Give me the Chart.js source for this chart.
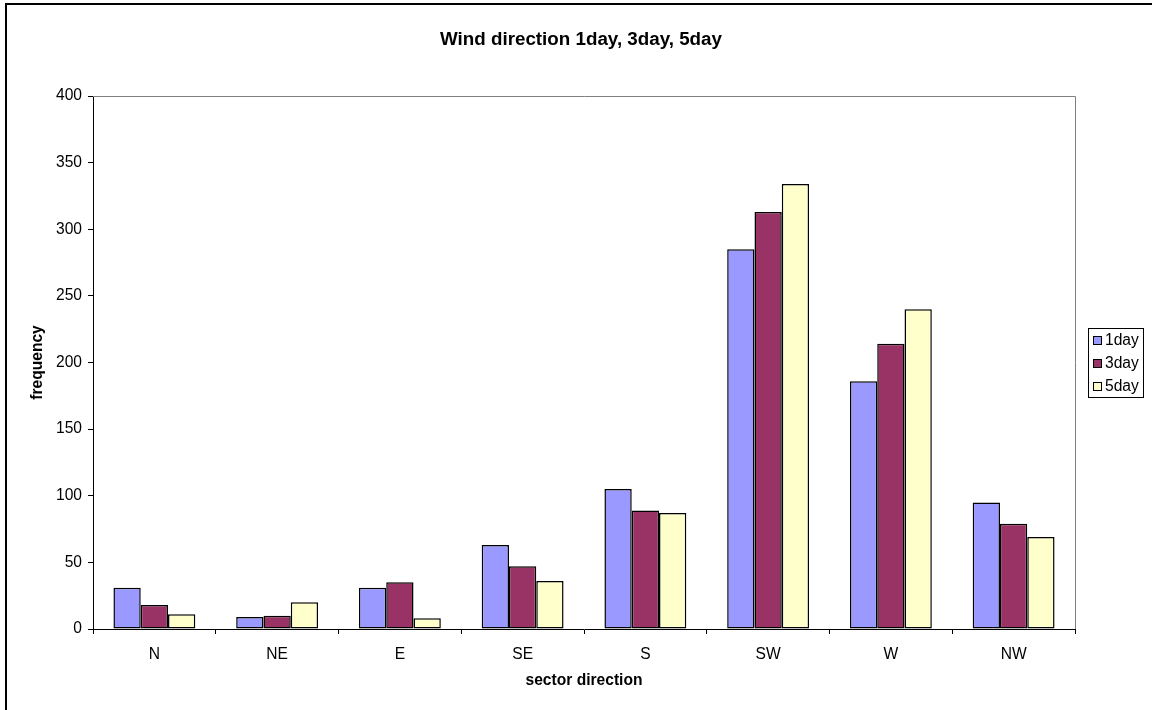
<!DOCTYPE html>
<html>
<head>
<meta charset="utf-8">
<script src="https://cdn.jsdelivr.net/npm/chart.js@4.4.1/dist/chart.umd.min.js"></script>
<style>
  html, body { margin: 0; padding: 0; background: #fff; }
  canvas { display: block; }
</style>
</head>
<body>
<canvas id="c" width="1152" height="710"></canvas>
<script>
// Wind sector frequencies for three averaging windows
const categories = ['N', 'NE', 'E', 'SE', 'S', 'SW', 'W', 'NW'];
const seriesNames = ['1day', '3day', '5day'];
const day1 = [31, 9, 31, 63, 105, 285, 186, 95];
const day3 = [18, 10, 35, 47, 89, 313, 214, 79];
const day5 = [11, 20, 8, 36, 87, 334, 240, 69];
const yMin = 0, yMax = 400, yStep = 50;
const chartTitle = 'Wind direction 1day, 3day, 5day';

const seriesColors = ['#9999FF', '#993366', '#FFFFCC'];
const FONT = "'Liberation Sans', Arial, sans-serif";

// White page, outer frame, centred heading and the grey plot-area border (top and right)
const framePlugin = {
  id: 'frame',
  beforeDraw(chart) {
    const ctx = chart.ctx;
    ctx.save();
    ctx.fillStyle = '#fff';
    ctx.fillRect(0, 0, chart.width, chart.height);
    ctx.restore();
  },
  beforeDatasetsDraw(chart) {
    const { ctx, chartArea: a } = chart;
    ctx.save();
    ctx.strokeStyle = '#808080';
    ctx.lineWidth = 1;
    ctx.beginPath();
    ctx.moveTo(a.left, a.top + 0.5);
    ctx.lineTo(a.right + 0.5, a.top + 0.5);
    ctx.lineTo(a.right + 0.5, a.bottom);
    ctx.stroke();
    ctx.restore();
  },
  afterDraw(chart) {
    const ctx = chart.ctx;
    ctx.save();
    ctx.strokeStyle = '#000';
    ctx.lineWidth = 2;
    ctx.beginPath();
    ctx.moveTo(6, chart.height);
    ctx.lineTo(6, 4);
    ctx.lineTo(chart.width, 4);
    ctx.stroke();
    // heading, centred on the framed page
    ctx.fillStyle = '#000';
    ctx.font = 'bold 18.8px ' + FONT;
    ctx.textAlign = 'center';
    ctx.textBaseline = 'middle';
    ctx.fillText(chartTitle, 581, 40);
    ctx.restore();
  }
};

// Boxed legend to the right of the plot
const boxLegendPlugin = {
  id: 'boxLegend',
  afterDraw(chart) {
    const ctx = chart.ctx;
    const bx = 1088, by = 328, bw = 55, bh = 69;
    ctx.save();
    ctx.strokeStyle = '#000';
    ctx.lineWidth = 1;
    ctx.strokeRect(bx + 0.5, by + 0.5, bw, bh);
    ctx.font = '15.6px ' + FONT;
    ctx.textBaseline = 'middle';
    ctx.textAlign = 'left';
    chart.data.datasets.forEach((ds, i) => {
      const cy = by + 12 + i * 23;
      ctx.fillStyle = ds.backgroundColor;
      ctx.fillRect(1093, cy - 4, 8, 8);
      ctx.strokeStyle = '#000';
      ctx.strokeRect(1093.5, cy - 3.5, 8, 8);
      ctx.fillStyle = '#000';
      ctx.fillText(ds.label, 1105, cy + 1);
    });
    ctx.restore();
  }
};

const seriesData = [day1, day3, day5];

new Chart(document.getElementById('c'), {
  type: 'bar',
  data: {
    labels: categories,
    datasets: seriesNames.map((name, i) => ({
      label: name,
      data: seriesData[i],
      backgroundColor: seriesColors[i],
      borderColor: '#000',
      borderWidth: 1.5,
      borderSkipped: false,
      barPercentage: 1.0,
      categoryPercentage: 0.667
    }))
  },
  options: {
    responsive: false,
    animation: false,
    devicePixelRatio: 1,
    layout: { padding: { left: 0, right: 77, top: 96, bottom: 0 } },
    plugins: {
      legend: { display: false },
      tooltip: { enabled: false },
      title: { display: false }
    },
    scales: {
      x: {
        offset: true,
        grid: {
          display: true,
          offset: true,
          drawOnChartArea: false,
          drawTicks: true,
          tickLength: 5,
          color: '#000'
        },
        border: { display: true, color: '#000', width: 1 },
        ticks: {
          color: '#000',
          font: { family: FONT, size: 15.6 },
          padding: 11,
          maxRotation: 0
        },
        title: {
          display: true,
          text: 'sector direction',
          color: '#000',
          font: { family: FONT, size: 15.6, weight: 'bold' },
          padding: { top: 4, bottom: 20 }
        },
        afterFit(scale) { scale.height = 81; }
      },
      y: {
        min: yMin,
        max: yMax,
        grid: {
          display: true,
          drawOnChartArea: false,
          drawTicks: true,
          tickLength: 5,
          color: '#000'
        },
        border: { display: true, color: '#000', width: 1 },
        ticks: {
          stepSize: yStep,
          color: '#000',
          font: { family: FONT, size: 15.6 },
          padding: 6
        },
        title: {
          display: true,
          text: 'frequency',
          color: '#000',
          font: { family: FONT, size: 15.6, weight: 'bold' },
          padding: { top: 28, bottom: 4 }
        },
        afterFit(scale) { scale.width = 93; }
      }
    }
  },
  plugins: [framePlugin, boxLegendPlugin]
});
</script>
</body>
</html>
